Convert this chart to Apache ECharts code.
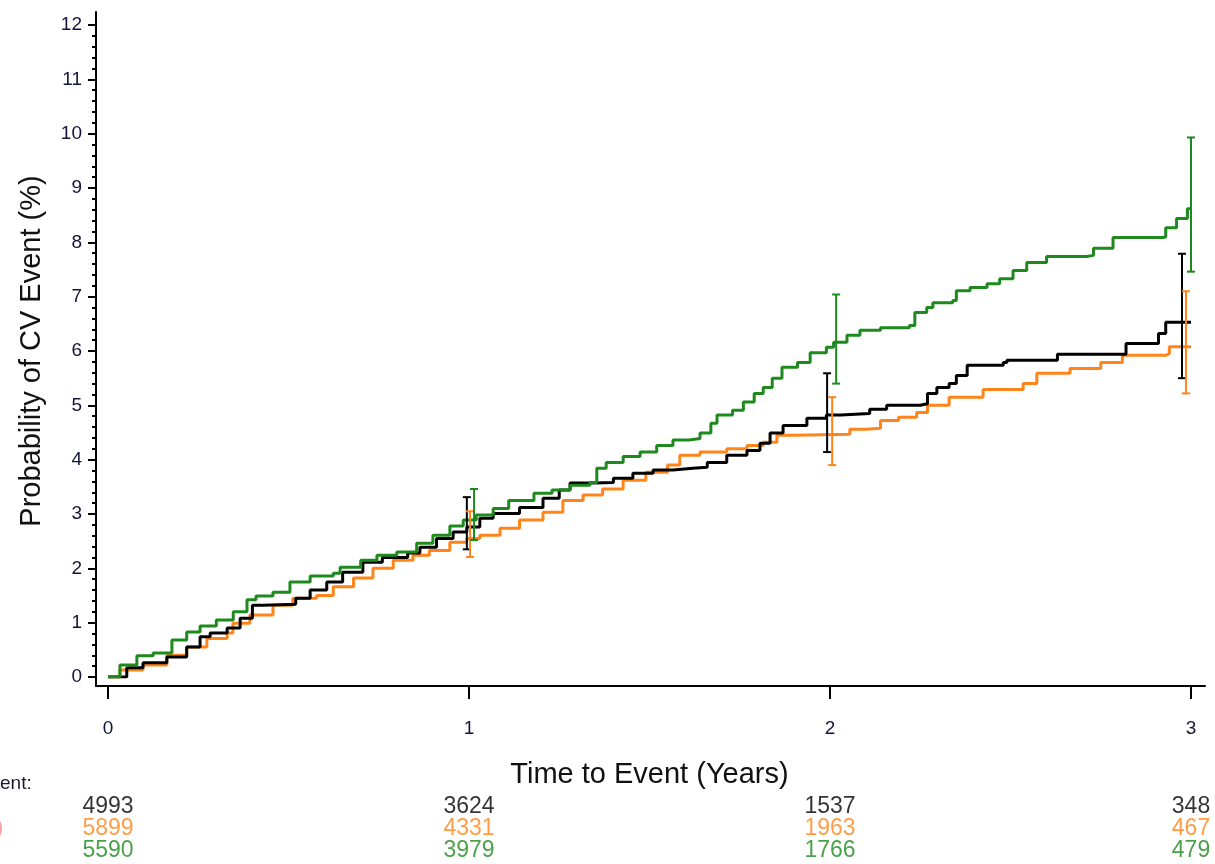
<!DOCTYPE html>
<html>
<head>
<meta charset="utf-8">
<script src="https://cdn.jsdelivr.net/npm/echarts@6/dist/echarts.min.js"></script>
<style>
html,body{margin:0;padding:0;background:#fff;}
#c{width:1215px;height:864px;}
</style>
</head>
<body>
<div id="c"></div>
<script>
// ---- data ----
const blackCurve = [[0,0],[0.052,0.17],[0.097,0.26],[0.163,0.37],[0.218,0.55],[0.255,0.74],[0.283,0.81],[0.33,0.9],[0.366,1.08],[0.40,1.32],[0.43,1.34],[0.52,1.45],[0.56,1.6],[0.606,1.75],[0.65,1.93],[0.706,2.11],[0.76,2.2],[0.83,2.28],[0.864,2.39],[0.91,2.55],[0.956,2.67],[0.994,2.76],[1.03,2.92],[1.067,3.01],[1.14,3.12],[1.205,3.29],[1.25,3.44],[1.28,3.57],[1.344,3.58],[1.40,3.66],[1.454,3.75],[1.51,3.81],[1.565,3.84],[1.62,3.86],[1.66,3.95],[1.714,4.08],[1.77,4.17],[1.806,4.3],[1.834,4.49],[1.87,4.63],[1.936,4.76],[1.99,4.82],[2.03,4.85],[2.11,4.93],[2.157,5.0],[2.25,5.03],[2.27,5.22],[2.296,5.33],[2.33,5.4],[2.35,5.55],[2.38,5.74],[2.48,5.79],[2.49,5.83],[2.63,5.94],[2.82,6.14],[2.91,6.32],[2.93,6.53],[3.0,6.53]];
const orangeCurve = [[0,0],[0.033,0.13],[0.097,0.22],[0.163,0.40],[0.218,0.55],[0.274,0.71],[0.33,0.81],[0.346,0.99],[0.393,1.14],[0.457,1.32],[0.512,1.45],[0.578,1.5],[0.624,1.66],[0.68,1.82],[0.734,2.0],[0.79,2.15],[0.845,2.24],[0.89,2.33],[0.947,2.48],[0.994,2.55],[1.03,2.61],[1.086,2.74],[1.14,2.89],[1.205,3.03],[1.26,3.25],[1.316,3.35],[1.37,3.46],[1.427,3.62],[1.49,3.77],[1.55,3.9],[1.584,4.08],[1.64,4.14],[1.714,4.2],[1.77,4.26],[1.815,4.32],[1.853,4.45],[1.9,4.47],[2.055,4.56],[2.1,4.58],[2.14,4.72],[2.19,4.78],[2.24,4.87],[2.27,5.0],[2.33,5.15],[2.424,5.29],[2.535,5.4],[2.573,5.59],[2.665,5.68],[2.75,5.79],[2.81,5.92],[2.93,5.95],[2.94,6.08],[3.0,6.08]];
const greenCurve = [[0,0],[0.033,0.22],[0.08,0.39],[0.125,0.44],[0.177,0.68],[0.218,0.83],[0.255,0.94],[0.30,1.05],[0.347,1.2],[0.385,1.42],[0.41,1.49],[0.457,1.56],[0.504,1.75],[0.56,1.86],[0.624,1.91],[0.643,2.02],[0.70,2.15],[0.745,2.24],[0.80,2.30],[0.855,2.46],[0.90,2.61],[0.947,2.78],[0.984,2.89],[1.02,2.98],[1.067,3.1],[1.11,3.25],[1.18,3.38],[1.23,3.44],[1.28,3.53],[1.335,3.58],[1.354,3.84],[1.38,3.95],[1.427,4.06],[1.474,4.14],[1.52,4.26],[1.565,4.36],[1.61,4.39],[1.64,4.49],[1.67,4.67],[1.687,4.82],[1.73,4.91],[1.76,5.06],[1.79,5.22],[1.815,5.33],[1.84,5.5],[1.867,5.7],[1.91,5.79],[1.945,5.97],[1.99,6.07],[2.01,6.16],[2.047,6.29],[2.083,6.38],[2.14,6.43],[2.22,6.47],[2.235,6.71],[2.268,6.8],[2.285,6.89],[2.34,6.93],[2.35,7.11],[2.388,7.17],[2.435,7.24],[2.47,7.33],[2.507,7.48],[2.545,7.63],[2.6,7.74],[2.71,7.76],[2.73,7.89],[2.784,8.09],[2.92,8.1],[2.93,8.27],[2.96,8.44],[2.99,8.62],[3.0,8.62]];

const blackErrX = [0.994, 1.992, 2.975];
const blackErrLow = [2.35, 4.14, 5.5];
const blackErrHigh = [3.31, 5.59, 7.79];
const orangeErrX = [1.003, 2.006, 2.986];
const orangeErrLow = [2.21, 3.9, 5.22];
const orangeErrHigh = [3.05, 5.15, 7.1];
const greenErrX = [1.014, 2.017, 3.0];
const greenErrLow = [2.52, 5.40, 7.46];
const greenErrHigh = [3.46, 7.04, 9.93];

const riskTimes = [0, 1, 2, 3];
const atRiskBlack = [4993, 3624, 1537, 348];
const atRiskOrange = [5899, 4331, 1963, 467];
const atRiskGreen = [5590, 3979, 1766, 479];

const xTitle = 'Time to Event (Years)';
const yTitle = 'Probability of CV Event (%)';

// ---- styles ----
const BLACK = '#000000', ORANGE = '#FF8419', GREEN = '#1E8A1E';
const FONT = 'Liberation Sans, Arial, sans-serif';

function errSeries(xs, lo, hi, color) {
  return {
    type: 'custom', xAxisIndex: 1, yAxisIndex: 1, z: 5,
    data: xs.map((x, i) => [x, lo[i], hi[i]]),
    renderItem: function (params, api) {
      const top = api.coord([api.value(0), api.value(2)]);
      const bot = api.coord([api.value(0), api.value(1)]);
      const w = 4;
      const st = { stroke: color, lineWidth: 2 };
      return {
        type: 'group', children: [
          { type: 'line', shape: { x1: top[0], y1: top[1], x2: bot[0], y2: bot[1] }, style: st },
          { type: 'line', shape: { x1: top[0] - w, y1: top[1], x2: top[0] + w, y2: top[1] }, style: st },
          { type: 'line', shape: { x1: bot[0] - w, y1: bot[1], x2: bot[0] + w, y2: bot[1] }, style: st }
        ]
      };
    }
  };
}

function curveSeries(data, color) {
  return {
    type: 'line', xAxisIndex: 1, yAxisIndex: 1, step: 'end', showSymbol: false, symbol: 'none',
    data: data, lineStyle: { color: color, width: 3 }, z: 4, animation: false
  };
}

function riskSeries(vals, row, color) {
  return {
    type: 'scatter', xAxisIndex: 2, yAxisIndex: 2, symbolSize: 2,
    itemStyle: { color: 'rgba(0,0,0,0)' },
    data: riskTimes.map((t, i) => [t, row, vals[i]]),
    label: {
      show: true, position: 'inside', color: color, fontFamily: FONT, fontSize: 23,
      formatter: p => String(p.value[2])
    },
    emphasis: { disabled: true }, silent: true
  };
}

const chart = echarts.init(document.getElementById('c'));
chart.setOption({
  animation: false,
  backgroundColor: '#fff',
  grid: [
    { left: 96, right: 10, top: 12, bottom: 178 },
    { left: 108, right: 24, top: 25, bottom: 187 },
    { left: 108, right: 24, top: 807, bottom: 13 }
  ],
  xAxis: [
    { gridIndex: 0, type: 'value', min: 0, max: 1, axisLine: { show: true, onZero: false, lineStyle: { color: '#000', width: 2 } },
      axisTick: { show: false }, axisLabel: { show: false }, splitLine: { show: false } },
    { gridIndex: 1, type: 'value', min: 0, max: 3, interval: 1, offset: 9,
      axisLine: { show: false, onZero: false }, axisTick: { show: true, length: 13, lineStyle: { color: '#000', width: 2 } },
      axisLabel: { color: '#14143c', fontSize: 19, fontFamily: FONT, margin: 33 },
      splitLine: { show: false },
      name: xTitle, nameLocation: 'middle', nameGap: 74,
      nameTextStyle: { color: '#111', fontSize: 29, fontFamily: FONT } },
    { gridIndex: 2, type: 'value', min: 0, max: 3, show: false }
  ],
  yAxis: [
    { gridIndex: 0, type: 'value', min: 0, max: 1, axisLine: { show: true, onZero: false, lineStyle: { color: '#000', width: 2 } },
      axisTick: { show: false }, axisLabel: { show: false }, splitLine: { show: false } },
    { gridIndex: 1, type: 'value', min: 0, max: 12, interval: 1, offset: 12,
      axisLine: { show: false, onZero: false }, axisTick: { show: true, length: 8, lineStyle: { color: '#000', width: 2 } },
      minorTick: { show: true, splitNumber: 5, length: 4, lineStyle: { color: '#000', width: 2 } },
      axisLabel: { color: '#14143c', fontSize: 19, fontFamily: FONT, margin: 14 },
      splitLine: { show: false }, minorSplitLine: { show: false },
      name: yTitle, nameLocation: 'middle', nameGap: 50,
      nameTextStyle: { color: '#111', fontSize: 29, fontFamily: FONT } },
    { gridIndex: 2, type: 'value', min: 0, max: 2, inverse: true, show: false }
  ],
  graphic: [
    { type: 'text', left: 0, top: 774, style: { text: 'ent:', fill: '#1a1a2e', fontSize: 19, fontFamily: FONT } },
    { type: 'text', left: -4, top: 817, style: { text: ')', fill: '#F4A3A3', fontSize: 22, fontFamily: FONT } }
  ],
  series: [
    curveSeries(orangeCurve, ORANGE),
    curveSeries(blackCurve, BLACK),
    curveSeries(greenCurve, GREEN),
    errSeries(blackErrX, blackErrLow, blackErrHigh, BLACK),
    errSeries(orangeErrX, orangeErrLow, orangeErrHigh, ORANGE),
    errSeries(greenErrX, greenErrLow, greenErrHigh, GREEN),
    riskSeries(atRiskBlack, 0, BLACK),
    riskSeries(atRiskOrange, 1, ORANGE),
    riskSeries(atRiskGreen, 2, GREEN)
  ]
});
</script>
</body>
</html>
